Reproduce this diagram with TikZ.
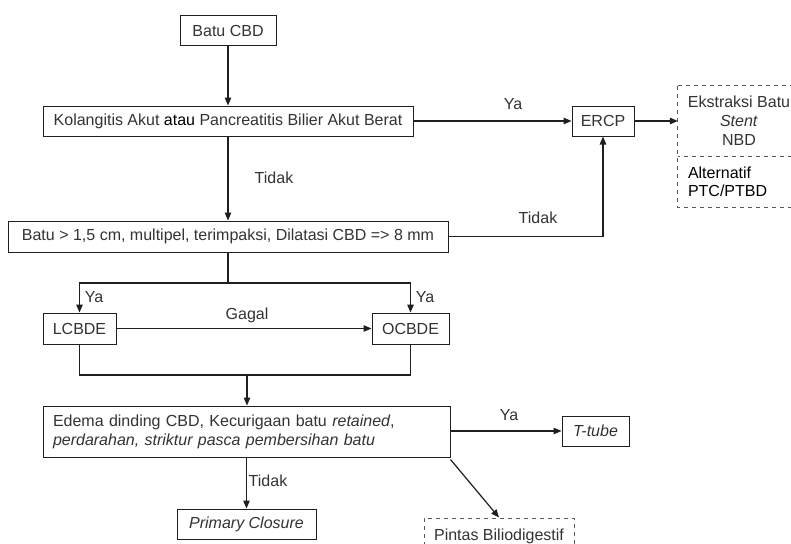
\documentclass[tikz,border=0pt]{standalone}
\usepackage{fontspec}
\setmainfont{Liberation Sans}
\usetikzlibrary{arrows.meta}
\definecolor{txt}{gray}{0.2}
\definecolor{ln}{gray}{0.12}
\tikzset{
  box/.style={draw=ln, line width=1pt, rectangle, inner sep=0pt, text=txt,
    font=\fontsize{16}{19}\selectfont},
  dline/.style={draw=ln!75, line width=1pt, dash pattern=on 4pt off 4pt},
  dbox/.style={box, dline},
  txtonly/.style={rectangle, inner sep=0pt, text=txt, font=\fontsize{16}{19}\selectfont},
  conn/.style={draw=ln, line width=1.2pt},
  arr/.style={conn, -{Triangle[length=8pt,width=6.5pt]}},
  lab/.style={text=txt, font=\fontsize{16}{19}\selectfont, inner sep=0pt}
}
\begin{document}
\begin{tikzpicture}[x=1pt,y=-1pt]
\useasboundingbox (0,0) rectangle (791,543);
\clip (0,0) rectangle (791,543);
\fill[white] (0,0) rectangle (791,543);

\node[box, minimum width=96, minimum height=30] (batu) at (228,31) {Batu CBD};
\node[box, minimum width=370, minimum height=30] (kol) at (228,121)
  {Kolangitis Akut \textcolor{black}{atau} Pancreatitis Bilier Akut Berat};
\node[box, minimum width=62, minimum height=30] (ercp) at (603,121) {ERCP};
\node[txtonly, minimum width=122, minimum height=70, align=center] (ekst) at (739,121)
  {Ekstraksi Batu\\\textit{Stent}\\NBD};
\node[txtonly, minimum height=51, text width=102, inner xsep=10pt, align=left, text=black] (alt) at (739,181.5)
  {Alternatif\\[-1pt]PTC/PTBD};
\draw[dline] (ekst.north west) -- (ekst.north east);
\draw[dline] (ekst.north west) -- (alt.south west) -- (alt.south east);
\draw[dline, dash phase=2pt] (ekst.south west) -- (ekst.south east);
\node[box, minimum width=440, minimum height=31] (batu2) at (228,236.5)
  {Batu > 1,5 cm, multipel, terimpaksi, Dilatasi CBD => 8 mm};
\node[box, minimum width=73, minimum height=31] (lcbde) at (79.5,328.5) {LCBDE};
\node[box, minimum width=77, minimum height=31] (ocbde) at (410.5,328.5) {OCBDE};
\node[box, minimum height=51, text width=387, inner xsep=10pt, align=left] (edema) at (246.5,431.5)
  {Edema dinding CBD, Kecurigaan batu \textit{retained},\\\textit{perdarahan, striktur pasca pembersihan batu}};
\node[box, minimum width=67, minimum height=30] (ttube) at (595.5,431) {\textit{T-tube}};
\node[box, minimum width=139, minimum height=30] (primary) at (246.5,524) {\textit{Primary Closure}};
\node[dbox, minimum width=150, minimum height=36] (pintas) at (499,536) {Pintas Biliodigestif};

\coordinate (j1) at (228,283);
\coordinate (j2) at (247,375);
\coordinate (ercpin) at (603,236.5);

\draw[arr] (batu.south) -- (kol.north);
\draw[arr] (kol.south) -- (batu2.north);
\node[lab] (t1) at (274,178) {Tidak};
\draw[arr] (kol.east) -- (ercp.west);
\node[lab] (y1) at (513,104) {Ya};
\draw[arr] (ercp.east) -- (ekst.west);
\draw[conn] (batu2.east) -- (ercpin);
\draw[arr] (ercpin) -- (ercp.south);
\node[lab] (t2) at (538,218) {Tidak};

\draw[conn] (batu2.south) -- (j1);
\draw[arr] (j1) -| (lcbde.north);
\draw[arr] (j1) -| (ocbde.north);
\node[lab] (y2) at (94,297) {Ya};
\node[lab] (y3) at (425,297) {Ya};
\draw[arr] (lcbde.east) -- (ocbde.west);
\node[lab] (g1) at (247,315) {Gagal};
\draw[conn] (lcbde.south) |- (j2) -| (ocbde.south);
\draw[arr] (j2) -- (edema.north -| j2);

\draw[arr] (edema.east |- ttube.west) -- (ttube.west);
\node[lab] (y4) at (509,415) {Ya};
\draw[arr] (edema.south) -- (primary.north);
\node[lab] (t3) at (268,481) {Tidak};
\draw[arr] (edema.south east) ++(0,2) coordinate (d0) -- (pintas.north);
\end{tikzpicture}
\end{document}
